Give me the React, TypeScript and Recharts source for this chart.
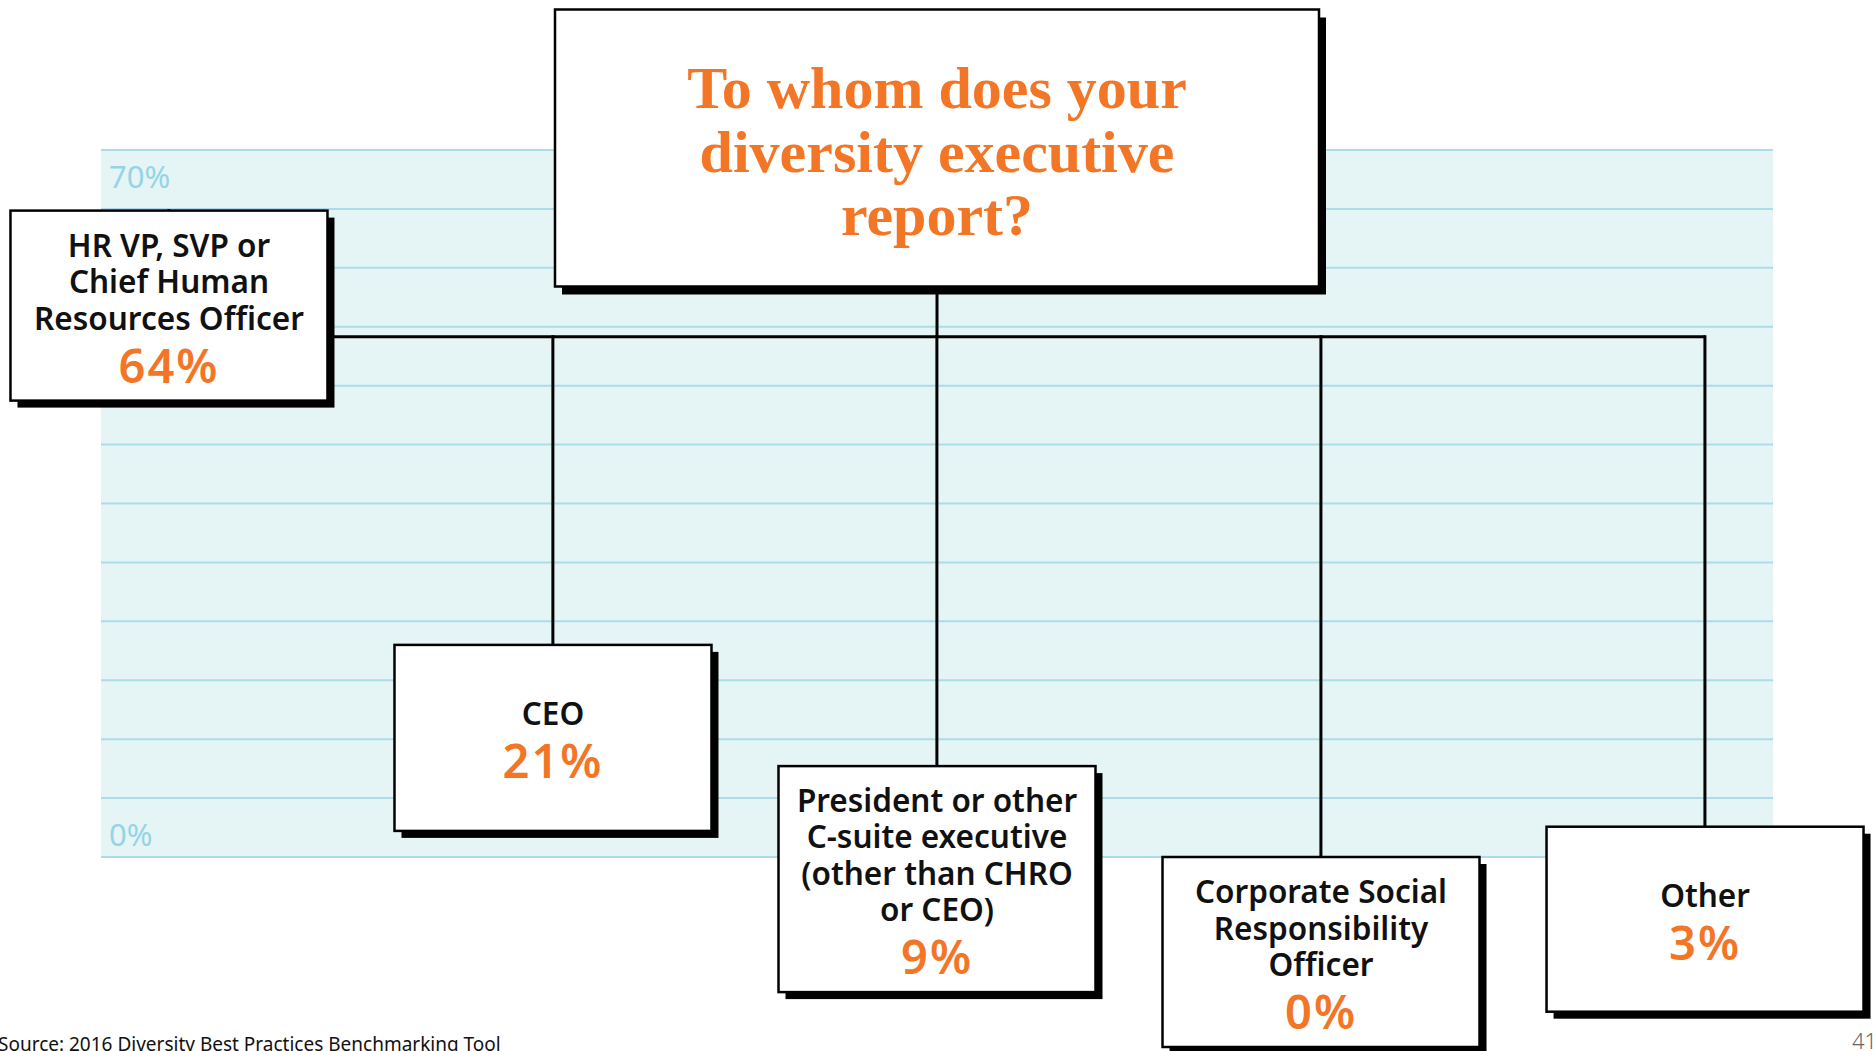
import React from "react";
import {
  ComposedChart,
  XAxis,
  YAxis,
  CartesianGrid,
  Bar,
  Line,
  Scatter,
  ReferenceLine,
} from "recharts";

// ---------- data ----------
const CATEGORIES = [
  "HR VP, SVP or Chief Human Resources Officer",
  "CEO",
  "President or other C-suite executive (other than CHRO or CEO)",
  "Corporate Social Responsibility Officer",
  "Other",
];
const LABEL_LINES = [
  ["HR VP, SVP or", "Chief Human", "Resources Officer"],
  ["CEO"],
  ["President or other", "C-suite executive", "(other than CHRO", "or CEO)"],
  ["Corporate Social", "Responsibility", "Officer"],
  ["Other"],
];
const SHARES = [64, 21, 9, 0, 3];
const AXIS_MAX = 70;
const AXIS_MIN = 0;
const CONNECTOR_LEVEL = 51.5;
const GRID_TICKS = [0, 5.83, 11.67, 17.5, 23.33, 29.17, 35, 40.83, 46.67, 52.5, 58.33, 64.17, 70];
const TITLE_LINES = ["To whom does your", "diversity executive", "report?"];
const SOURCE_TEXT = "Source: 2016 Diversity Best Practices Benchmarking Tool";
const PAGE_NUMBER = "41";

// ---------- styles ----------
const W = 1873;
const H = 1051;
const MARGIN = { top: 150, right: 100, bottom: 194, left: 101 };
const X_DOMAIN: [number, number] = [-0.177, 4.177];
const ORANGE = "#f37526";
const BG = "#e5f4f5";
const GRID = "#aadde9";
const AXIS_TEXT = "#96d4e5";
const BOX_W = 317;
const BOX_HEIGHTS = [190, 186, 226, 190, 185];
const SHADOW = 7;
const LINE_GAP = 36.5;
const PCT_GAP = 53;
const CAP = 22;
const TEXT_SHIFT = 3;
const SANS = "'Noto Sans', 'Open Sans', sans-serif";

const rows = SHARES.map((s, i) => ({
  pos: i,
  name: CATEGORIES[i],
  share: s,
  link: [s, CONNECTOR_LEVEL],
  bus: CONNECTOR_LEVEL,
}));

const axisLabel = (text: string, dy: number) => (p: any) => {
  const vb = p.viewBox || {};
  return (
    <text
      x={(vb.x || 0) + 8}
      y={(vb.y || 0) + dy}
      textAnchor="start"
      fontFamily={SANS}
      fontWeight={400}
      fontSize={31}
      fill={AXIS_TEXT}
    >
      {text}
    </text>
  );
};

const NoTick = () => <g />;

const LinkShape = (props: any) => {
  const { x, y, width, height } = props;
  if (x == null || y == null) return null;
  const cx = x + (width || 0) / 2;
  return (
    <line
      x1={cx}
      x2={cx}
      y1={y}
      y2={y + height}
      stroke="#000"
      strokeWidth={3}
      strokeLinecap="square"
    />
  );
};

const BoxShape = (props: any) => {
  const { cx, cy, payload } = props;
  const i = payload.pos;
  const lines = LABEL_LINES[i];
  const h = BOX_HEIGHTS[i];
  const n = lines.length;
  const block = CAP + LINE_GAP * (n - 1) + PCT_GAP;
  const first = cy + (h - block) / 2 + CAP + TEXT_SHIFT;
  const left = cx - BOX_W / 2;
  return (
    <g>
      <rect x={left + SHADOW} y={cy + SHADOW} width={BOX_W} height={h} fill="#000" />
      <rect x={left} y={cy} width={BOX_W} height={h} fill="#fff" stroke="#000" strokeWidth={2.5} />
      {lines.map((t, k) => (
        <text
          key={k}
          x={cx}
          y={first + k * LINE_GAP}
          textAnchor="middle"
          fontFamily={SANS}
          fontWeight={600}
          fontSize={31.5}
          fill="#111"
        >
          {t}
        </text>
      ))}
      <text
        x={cx}
        y={first + (n - 1) * LINE_GAP + PCT_GAP}
        textAnchor="middle"
        fontFamily={SANS}
        fontWeight={600}
        fontSize={47}
        letterSpacing={2}
        fill={ORANGE}
      >
        {payload.share}%
      </text>
    </g>
  );
};

export default function App() {
  return (
    <div style={{ position: "absolute", left: 0, top: 0, width: W, height: H, background: "#fff", overflow: "hidden" }}>
      <ComposedChart width={W} height={H} data={rows} margin={MARGIN}>
        <CartesianGrid vertical={false} fill={BG} fillOpacity={1} stroke={GRID} strokeWidth={2} />
        <XAxis type="number" dataKey="pos" domain={X_DOMAIN} hide />
        <YAxis
          type="number"
          domain={[AXIS_MIN, AXIS_MAX]}
          ticks={GRID_TICKS}
          width={0}
          axisLine={false}
          tickLine={false}
          tick={<NoTick />}
          interval={0}
        />
        <ReferenceLine y={AXIS_MAX} stroke="none" label={axisLabel("70%", 38)} />
        <ReferenceLine y={AXIS_MIN} stroke="none" label={axisLabel("0%", -11)} />
        <Bar dataKey="link" shape={<LinkShape />} isAnimationActive={false} />
        <ReferenceLine
          segment={[{ x: 2, y: CONNECTOR_LEVEL }, { x: 2, y: AXIS_MAX }]}
          stroke="#000"
          strokeWidth={3}
        />
        <Line
          dataKey="bus"
          stroke="#000"
          strokeWidth={3}
          dot={false}
          activeDot={false}
          isAnimationActive={false}
        />
        <Scatter dataKey="share" shape={<BoxShape />} isAnimationActive={false} />
      </ComposedChart>
      <svg
        width={W}
        height={H}
        style={{ position: "absolute", left: 0, top: 0, pointerEvents: "none" }}
      >
        <rect x={562} y={17.5} width={764} height={277} fill="#000" />
        <rect x={555} y={9.5} width={764} height={277} fill="#fff" stroke="#000" strokeWidth={2.5} />
        {TITLE_LINES.map((t, k) => (
          <text
            key={k}
            x={937}
            y={108 + k * 63.5}
            textAnchor="middle"
            fontFamily="'Liberation Serif', serif"
            fontWeight={700}
            fontSize={60}
            fill={ORANGE}
          >
            {t}
          </text>
        ))}
        <text x={-2} y={1051} fontFamily={SANS} fontSize={19} fill="#111">
          {SOURCE_TEXT}
        </text>
        <text x={1852} y={1049} fontFamily={SANS} fontWeight={300} fontSize={22} fill="#666">
          {PAGE_NUMBER}
        </text>
      </svg>
    </div>
  );
}
